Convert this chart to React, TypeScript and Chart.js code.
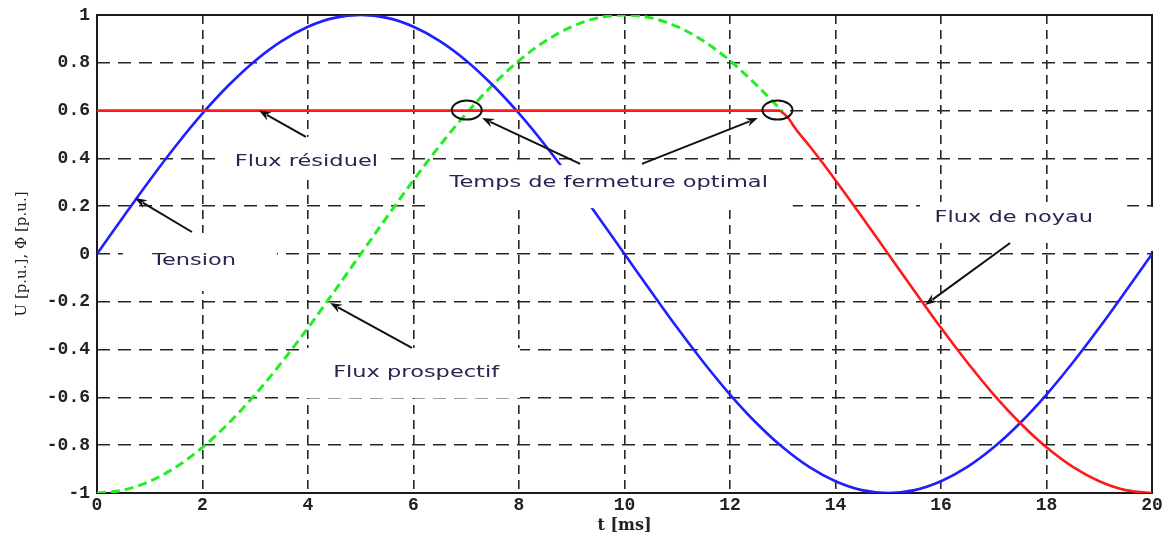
import React, { useEffect, useRef } from "react";
import { Chart, registerables } from "chart.js";

Chart.register(...registerables);

// ---- data (t in ms, values in p.u.) ----
const T_TENSION = [0, 0.5, 1, 1.5, 2, 2.5, 3, 3.5, 4, 4.5, 5, 5.5, 6, 6.5, 7, 7.5, 8, 8.5, 9, 9.5, 10, 10.5, 11, 11.5, 12, 12.5, 13, 13.5, 14, 14.5, 15, 15.5, 16, 16.5, 17, 17.5, 18, 18.5, 19, 19.5, 20];
const TENSION = [0, 0.156, 0.309, 0.454, 0.588, 0.707, 0.809, 0.891, 0.951, 0.988, 1, 0.988, 0.951, 0.891, 0.809, 0.707, 0.588, 0.454, 0.309, 0.156, 0, -0.156, -0.309, -0.454, -0.588, -0.707, -0.809, -0.891, -0.951, -0.988, -1, -0.988, -0.951, -0.891, -0.809, -0.707, -0.588, -0.454, -0.309, -0.156, 0];

const T_PROSPECTIF = [0, 0.5, 1, 1.5, 2, 2.5, 3, 3.5, 4, 4.5, 5, 5.5, 6, 6.5, 7, 7.5, 8, 8.5, 9, 9.5, 10, 10.5, 11, 11.5, 12, 12.5, 13];
const FLUX_PROSPECTIF = [-1, -0.988, -0.951, -0.891, -0.809, -0.707, -0.588, -0.454, -0.309, -0.156, 0, 0.156, 0.309, 0.454, 0.588, 0.707, 0.809, 0.891, 0.951, 0.988, 1, 0.988, 0.951, 0.891, 0.809, 0.707, 0.595];

// residual flux (flat) then core flux
const T_RESIDUEL = [0, 12.95];
const FLUX_RESIDUEL = [0.6, 0.6];
const T_NOYAU = [12.95, 13.1, 13.25, 13.5, 13.75, 14, 14.5, 15, 15.5, 16, 16.5, 17, 17.5, 18, 18.5, 19, 19.5, 20];
const FLUX_NOYAU = [0.6, 0.57, 0.522, 0.454, 0.383, 0.309, 0.156, 0, -0.156, -0.309, -0.454, -0.588, -0.707, -0.809, -0.891, -0.951, -0.988, -1];

const X_TICKS = [0, 2, 4, 6, 8, 10, 12, 14, 16, 18, 20];
const Y_TICKS = [-1, -0.8, -0.6, -0.4, -0.2, 0, 0.2, 0.4, 0.6, 0.8, 1];

// ---- annotations (data coordinates) ----
const LABELS = ["Flux résiduel", "Tension", "Flux prospectif", "Temps de fermeture optimal", "Flux de noyau"];
const LABEL_T = [3.97, 1.84, 6.05, 9.7, 17.38];
const LABEL_V = [0.385, -0.029, -0.498, 0.297, 0.151];

// white masks [t0, t1, v0, v1]
const MASKS = [
  [2.35, 5.57, 0.49, 0.31],
  [0.49, 3.41, 0.088, -0.155],
  [3.96, 8.02, -0.393, -0.603],
  [6.37, 13.19, 0.372, 0.192],
  [15.6, 19.53, 0.218, 0.046],
  [19.94, 20.08, 0.197, 0.013],
];

// arrows [tailT, tailV, headT, headV]
const ARROWS = [
  [3.96, 0.49, 3.07, 0.6],
  [1.8, 0.092, 0.72, 0.234],
  [5.97, -0.393, 4.42, -0.205],
  [9.16, 0.377, 7.3, 0.569],
  [10.33, 0.377, 12.53, 0.569],
  [17.31, 0.046, 15.7, -0.213],
];

const CIRCLE_T = [7.01, 12.9];
const CIRCLE_V = [0.602, 0.602];

const toXY = (xs: number[], ys: number[]) => xs.map((x, i) => ({ x, y: ys[i] }));

const annotPlugin = {
  id: "annot",
  beforeDatasetsDraw(chart: any) {
    const { ctx, chartArea: a } = chart;
    ctx.save();
    ctx.strokeStyle = "#1a1a1a";
    ctx.lineWidth = 2;
    ctx.strokeRect(a.left, a.top, a.right - a.left, a.bottom - a.top);
    ctx.restore();
  },
  afterDatasetsDraw(chart: any) {
    const { ctx } = chart;
    const xs = chart.scales.x;
    const ys = chart.scales.y;
    const px = (t: number) => xs.getPixelForValue(t);
    const py = (v: number) => ys.getPixelForValue(v);
    ctx.save();
    ctx.fillStyle = "#ffffff";
    MASKS.forEach(([t0, t1, v0, v1]) => {
      const x0 = px(t0), x1 = px(t1), y0 = py(v0), y1 = py(v1);
      ctx.fillRect(Math.min(x0, x1), Math.min(y0, y1), Math.abs(x1 - x0), Math.abs(y1 - y0));
    });
    ctx.strokeStyle = "#111111";
    ctx.fillStyle = "#111111";
    ctx.lineWidth = 2;
    ARROWS.forEach(([t0, v0, t1, v1]) => {
      const x0 = px(t0), y0 = py(v0), x1 = px(t1), y1 = py(v1);
      const ang = Math.atan2(y1 - y0, x1 - x0);
      const len = 12, hw = 4.5;
      const bx = x1 - len * Math.cos(ang), by = y1 - len * Math.sin(ang);
      ctx.beginPath();
      ctx.moveTo(x0, y0);
      ctx.lineTo(bx + 3 * Math.cos(ang), by + 3 * Math.sin(ang));
      ctx.stroke();
      ctx.beginPath();
      ctx.moveTo(x1, y1);
      ctx.lineTo(bx - hw * Math.sin(ang), by + hw * Math.cos(ang));
      ctx.lineTo(bx + 4 * Math.cos(ang), by + 4 * Math.sin(ang));
      ctx.lineTo(bx + hw * Math.sin(ang), by - hw * Math.cos(ang));
      ctx.closePath();
      ctx.fill();
    });
    ctx.lineWidth = 2;
    CIRCLE_T.forEach((t, i) => {
      ctx.beginPath();
      ctx.ellipse(px(t), py(CIRCLE_V[i]), 15, 9.5, 0, 0, Math.PI * 2);
      ctx.stroke();
    });
    ctx.fillStyle = "#2b2352";
    ctx.font = '15px "DejaVu Sans"';
    ctx.textAlign = "center";
    ctx.textBaseline = "middle";
    LABELS.forEach((s, i) => {
      ctx.save();
      ctx.translate(px(LABEL_T[i]), py(LABEL_V[i]));
      ctx.scale(1.5, 1);
      ctx.fillText(s, 0, 0);
      ctx.restore();
    });
    ctx.restore();
  },
};

export default function App() {
  const ref = useRef<HTMLCanvasElement | null>(null);
  useEffect(() => {
    document.body.style.margin = "0";
    const canvas = ref.current;
    if (!canvas) return;
    const line = (label: string, xs: number[], ys: number[], color: string, order: number, extra: any = {}) => ({
      label,
      data: toXY(xs, ys),
      borderColor: color,
      borderWidth: 2.6,
      pointRadius: 0,
      cubicInterpolationMode: "monotone",
      order,
      ...extra,
    });
    const chart = new Chart(canvas, {
      type: "line",
      data: {
        datasets: [
          line("Flux résiduel", T_RESIDUEL, FLUX_RESIDUEL, "#ff1a1a", 0),
          line("Flux de noyau", T_NOYAU, FLUX_NOYAU, "#ff1a1a", 0),
          line("Tension", T_TENSION, TENSION, "#1f1fff", 1),
          line("Flux prospectif", T_PROSPECTIF, FLUX_PROSPECTIF, "#22ee22", 2, { borderWidth: 3, borderDash: [9, 5] }),
        ],
      },
      options: {
        responsive: false,
        animation: false,
        events: [],
        layout: { padding: { top: 15, right: 14, left: 0, bottom: 0 } },
        plugins: { legend: { display: false }, tooltip: { enabled: false } },
        scales: {
          x: {
            type: "linear",
            min: 0,
            max: 20,
            afterBuildTicks: (s: any) => {
              s.ticks = X_TICKS.map((v) => ({ value: v }));
            },
            afterFit: (s: any) => {
              s.height = 45;
            },
            ticks: {
              color: "#222",
              font: { family: '"Liberation Mono"', size: 18, weight: "bold" },
              padding: 2,
              maxRotation: 0,
              autoSkip: false,
              callback: (v: any) => String(v),
            },
            grid: { color: "#262626", lineWidth: 1.6, drawTicks: false },
            border: { display: false, dash: [9, 6] },
            title: {
              display: true,
              text: "t [ms]",
              color: "#222",
              font: { family: '"DejaVu Serif"', size: 16, weight: "bold" },
              padding: { top: 3, bottom: 3 },
            },
          },
          y: {
            type: "linear",
            min: -1,
            max: 1,
            afterBuildTicks: (s: any) => {
              s.ticks = Y_TICKS.map((v) => ({ value: v }));
            },
            afterFit: (s: any) => {
              s.width = 97;
              s.paddingTop = 0;
              s.paddingBottom = 0;
            },
            ticks: {
              color: "#222",
              font: { family: '"Liberation Mono"', size: 18, weight: "bold" },
              padding: 7,
              autoSkip: false,
              callback: (v: any) => String(Number(Number(v).toFixed(1))),
            },
            grid: { color: "#262626", lineWidth: 1.6, drawTicks: false },
            border: { display: false, dash: [13, 8] },
            title: {
              display: true,
              text: "U [p.u.], Φ [p.u.]",
              color: "#222",
              font: { family: '"DejaVu Serif"', size: 15 },
              padding: { top: 13, bottom: 4 },
            },
          },
        },
      },
      plugins: [annotPlugin],
    } as any);
    return () => chart.destroy();
  }, []);
  return (
    <div style={{ width: 1166, height: 538 }}>
      <canvas ref={ref} width={1166} height={538} style={{ display: "block" }} />
    </div>
  );
}
